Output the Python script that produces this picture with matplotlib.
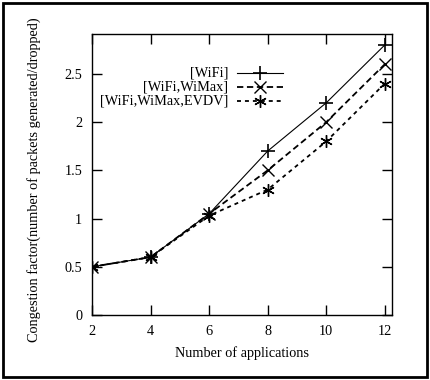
import matplotlib
matplotlib.use("Agg")
import matplotlib.pyplot as plt
from matplotlib.patches import Rectangle

apps = [2, 4, 6, 8, 10, 12]
wifi = [0.5, 0.6, 1.05, 1.7, 2.2, 2.8]
wifi_wimax = [0.5, 0.6, 1.05, 1.5, 2.0, 2.6]
wifi_wimax_evdv = [0.5, 0.6, 1.03, 1.3, 1.8, 2.4]
labels = ["[WiFi]", "[WiFi,WiMax]", "[WiFi,WiMax,EVDV]"]
xticks = [2, 4, 6, 8, 10, 12]
yticks = [0, 0.5, 1, 1.5, 2, 2.5]

plt.rcParams['font.family'] = ['Liberation Serif', 'DejaVu Serif']
FS = 10.3

fig = plt.figure(figsize=(4.3, 3.8), dpi=100)
ax = fig.add_axes([0.214, 0.171, 0.698, 0.740])

star = (6, 2, 0)
styles = [
    dict(color='black', lw=0.8, ls='-', marker='+', ms=10, mew=1.2),
    dict(color='black', lw=1.3, ls=(0, (3.5, 2)), marker='x', ms=8, mew=1.0),
    dict(color='black', lw=1.3, ls=(0, (2.2, 2.2)), marker=star, ms=9, mew=1.0),
]
series = [wifi, wifi_wimax, wifi_wimax_evdv]
for ys, st in zip(series, styles):
    ax.plot(apps, ys, **st)

# gnuplot-style legend
ly = [0.861, 0.811, 0.762]
for lab, st, yy in zip(labels, styles, ly):
    ax.text(0.453, yy, lab, transform=ax.transAxes, ha='right', va='center', fontsize=FS)
    kw = dict(st)
    kw.pop('marker'); kw.pop('ms'); kw.pop('mew')
    ax.plot([0.483, 0.637], [yy, yy], transform=ax.transAxes, **kw)
    ax.plot([0.56], [yy], transform=ax.transAxes, color='black', ls='none',
            marker=st['marker'], ms=st['ms'], mew=st['mew'])

ax.set_xlim(2, 12.25)
ax.set_ylim(0, 2.915)
ax.set_xticks(xticks)
ax.set_xticklabels([str(v) for v in xticks])
ax.set_yticks(yticks)
ax.set_yticklabels(['0', '0.5', '1', '1.5', '2', '2.5'])
ax.tick_params(direction='in', length=7, width=1, top=True, right=True, labelsize=FS, pad=7)
for s in ax.spines.values():
    s.set_linewidth(1.0)
ax.set_xlabel("Number of applications", fontsize=FS, labelpad=6)
ax.set_ylabel("Congestion factor(number of packets generated/dropped)", fontsize=FS)
ax.yaxis.set_label_coords(-0.17, 0.48)

fig.patches.append(Rectangle((0.006, 0.008), 0.988, 0.984, transform=fig.transFigure,
                             fill=False, edgecolor='black', lw=2))

fig.savefig("out.png", dpi=100)
